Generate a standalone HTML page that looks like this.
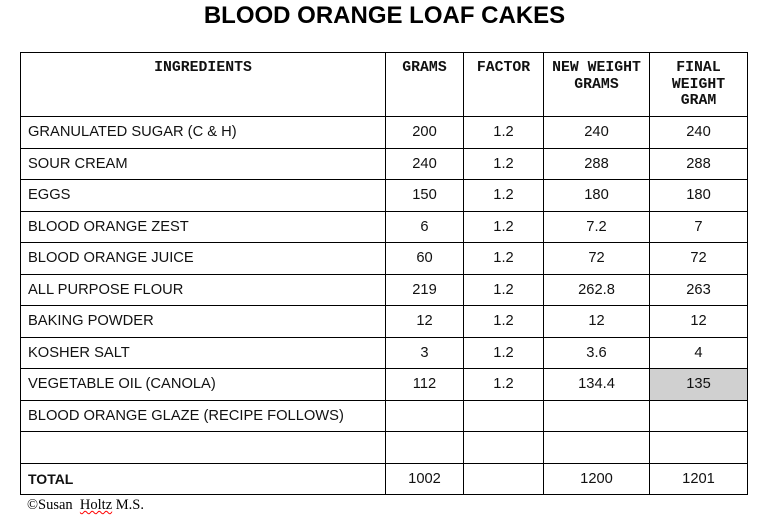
<!DOCTYPE html>
<html><head><meta charset="utf-8"><style>
body{margin:0;background:#fff;width:769px;height:532px;position:relative;overflow:hidden;font-family:"Liberation Sans",Arial,sans-serif;}
h1{position:absolute;left:0;width:769px;top:2px;margin:0;text-align:center;font-size:24px;font-weight:bold;color:#000;}
table{position:absolute;left:20px;top:52px;border-collapse:collapse;table-layout:fixed;}
td{border:1px solid #000;padding:0;font-size:14.7px;color:#111;text-align:center;height:30.5px;}
td.l{text-align:left;padding-left:7px;}
tr.h td{font-family:"Liberation Mono",monospace;font-weight:bold;font-size:14.8px;vertical-align:top;padding-top:7px;height:56px;line-height:16.5px;}
.g{background:#d0d0d0;}
.c{position:absolute;left:27px;top:497px;font-family:"Liberation Serif",serif;font-size:14.5px;color:#000;}
.c u{text-decoration:underline wavy red;text-decoration-thickness:1px;}
</style></head><body>
<h1>BLOOD ORANGE LOAF CAKES</h1>
<table>
<colgroup><col style="width:365px"><col style="width:78px"><col style="width:80px"><col style="width:106px"><col style="width:98px"></colgroup>
<tr class="h"><td>INGREDIENTS</td><td>GRAMS</td><td>FACTOR</td><td>NEW WEIGHT<br>GRAMS</td><td>FINAL<br>WEIGHT<br>GRAM</td></tr>
<tr><td class="l">GRANULATED SUGAR (C &amp; H)</td><td>200</td><td>1.2</td><td>240</td><td>240</td></tr>
<tr><td class="l">SOUR CREAM</td><td>240</td><td>1.2</td><td>288</td><td>288</td></tr>
<tr><td class="l">EGGS</td><td>150</td><td>1.2</td><td>180</td><td>180</td></tr>
<tr><td class="l">BLOOD ORANGE ZEST</td><td>6</td><td>1.2</td><td>7.2</td><td>7</td></tr>
<tr><td class="l">BLOOD ORANGE JUICE</td><td>60</td><td>1.2</td><td>72</td><td>72</td></tr>
<tr><td class="l">ALL PURPOSE FLOUR</td><td>219</td><td>1.2</td><td>262.8</td><td>263</td></tr>
<tr><td class="l">BAKING POWDER</td><td>12</td><td>1.2</td><td>12</td><td>12</td></tr>
<tr><td class="l">KOSHER SALT</td><td>3</td><td>1.2</td><td>3.6</td><td>4</td></tr>
<tr><td class="l">VEGETABLE OIL (CANOLA)</td><td>112</td><td>1.2</td><td>134.4</td><td class="g">135</td></tr>
<tr><td class="l">BLOOD ORANGE GLAZE (RECIPE FOLLOWS)</td><td></td><td></td><td></td><td></td></tr>
<tr><td class="l"></td><td></td><td></td><td></td><td></td></tr>
<tr><td class="l" style="font-weight:bold;font-size:14px">TOTAL</td><td>1002</td><td></td><td>1200</td><td>1201</td></tr>
</table>
<div class="c">©Susan &nbsp;<u>Holtz</u> M.S.</div>
</body></html>
